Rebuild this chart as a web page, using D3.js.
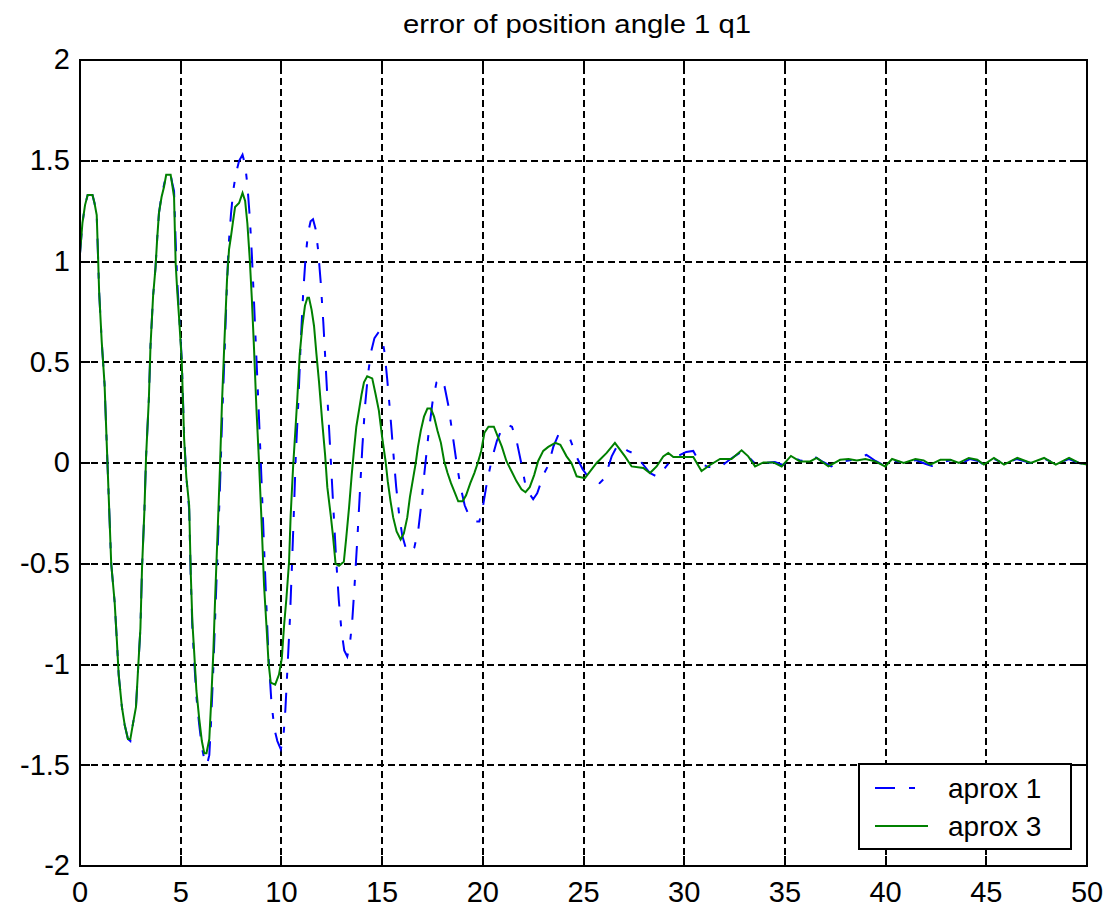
<!DOCTYPE html>
<html>
<head>
<meta charset="utf-8">
<script src="https://cdn.jsdelivr.net/npm/d3@7"></script>
<style>
  body { margin: 0; background: #fff; }
  text { font-family: "Liberation Sans", Arial, sans-serif; fill: #000; }
  .grid line { stroke: #000; stroke-width: 2; stroke-dasharray: 7,4; shape-rendering: crispEdges; }
  .ticks line { stroke: #000; stroke-width: 2; shape-rendering: crispEdges; }
</style>
</head>
<body>
<svg id="chart" width="1104" height="908"></svg>
<script>
// chart values
var chartTitle = "error of position angle 1 q1";
var seriesNames = ["aprox 1", "aprox 3"];
var xTicks = [0, 5, 10, 15, 20, 25, 30, 35, 40, 45, 50];
var yTicks = [-2, -1.5, -1, -0.5, 0, 0.5, 1, 1.5, 2];

// aprox 1 (blue, dash-dot)
var aprox1T = [0, 0.12, 0.25, 0.38, 0.62, 0.72, 0.83, 0.95, 1.08, 1.22, 1.33, 1.45, 1.55, 1.72, 1.83, 1.92, 2.08, 2.22, 2.38, 2.5,
  2.62, 2.78, 2.88, 3.0, 3.08, 3.2, 3.28, 3.42, 3.5, 3.63, 3.75, 3.83, 3.92, 4.05, 4.17, 4.28, 4.5, 4.58, 4.67, 4.75,
  4.83, 4.92, 5.05, 5.17, 5.28, 5.42, 5.5, 5.58, 5.67, 5.78, 5.92, 6.05, 6.17, 6.3, 6.42, 6.5, 6.62, 6.72, 6.83, 6.95,
  7.05, 7.17, 7.28, 7.38, 7.5, 7.62, 7.75, 7.9, 8.07, 8.2, 8.31, 8.43, 8.53, 8.64, 8.76, 8.89, 9.01, 9.14, 9.26, 9.36,
  9.5, 9.65, 9.8, 9.97, 10.1, 10.2, 10.3, 10.42, 10.52, 10.62, 10.72, 10.85, 10.96, 11.08, 11.2, 11.32, 11.45, 11.57, 11.7, 11.82,
  11.95, 12.08, 12.2, 12.33, 12.46, 12.6, 12.72, 12.85, 12.98, 13.12, 13.27, 13.4, 13.52, 13.65, 13.78, 13.9, 14.02, 14.15, 14.3, 14.45,
  14.62, 14.8, 14.98, 15.12, 15.25, 15.4, 15.55, 15.7, 15.85, 16.0, 16.2, 16.4, 16.6, 16.8, 16.95, 17.1, 17.3, 17.5, 17.7, 17.92,
  18.1, 18.3, 18.5, 18.7, 18.9, 19.1, 19.35, 19.6, 19.83, 20.0, 20.2, 20.45, 20.7, 20.95, 21.2, 21.45, 21.7, 21.93, 22.1, 22.3,
  22.5, 22.7, 22.84, 23.05, 23.26, 23.5, 23.75, 24.05, 24.33, 24.66, 24.95, 25.24, 25.5, 25.8, 26.05, 26.4, 26.7, 26.9, 27.2, 27.56,
  27.9, 28.3, 28.7, 29.0, 29.4, 29.8, 30.1, 30.45, 30.78, 31.2, 31.78, 32.3, 32.9, 33.2, 33.6, 34.0, 34.5, 34.9, 35.4, 35.8,
  36.4, 36.9, 37.3, 37.8, 38.3, 39.05, 39.5, 40.0, 40.5, 41.0, 41.5, 42.0, 42.3, 42.8, 43.3, 43.7, 44.2, 44.6, 44.9, 45.4,
  45.9, 46.5, 47.2, 47.9, 48.5, 49.1, 49.6, 50];
var aprox1Y = [1.04, 1.19, 1.28, 1.33, 1.33, 1.29, 1.23, 0.85, 0.6, 0.39, 0.09, -0.23, -0.5, -0.69, -0.88, -1.05, -1.21, -1.3, -1.37, -1.38,
  -1.3, -1.21, -1.03, -0.82, -0.52, -0.23, 0.03, 0.32, 0.58, 0.83, 0.97, 1.11, 1.24, 1.33, 1.38, 1.43, 1.43, 1.39, 1.35, 1.1,
  0.9, 0.74, 0.52, 0.14, -0.07, -0.23, -0.57, -0.82, -0.98, -1.16, -1.3, -1.41, -1.47, -1.5, -1.45, -1.3, -1.02, -0.74, -0.44, -0.12,
  0.2, 0.52, 0.84, 1.08, 1.24, 1.36, 1.44, 1.5, 1.53, 1.48, 1.38, 1.22, 1.04, 0.8, 0.52, 0.22, -0.08, -0.42, -0.72, -0.96,
  -1.18, -1.32, -1.38, -1.42, -1.36, -1.22, -1.02, -0.78, -0.52, -0.24, 0.05, 0.32, 0.6, 0.84, 1.02, 1.14, 1.2, 1.21, 1.16, 1.06,
  0.9, 0.7, 0.48, 0.24, 0.0, -0.26, -0.48, -0.68, -0.83, -0.93, -0.96, -0.9, -0.78, -0.58, -0.36, -0.14, 0.08, 0.28, 0.44, 0.55,
  0.62, 0.645, 0.63, 0.55, 0.42, 0.25, 0.06, -0.12, -0.26, -0.36, -0.43, -0.445, -0.42, -0.33, -0.2, -0.05, 0.14, 0.3, 0.4, 0.42,
  0.38, 0.28, 0.14, 0.0, -0.12, -0.21, -0.27, -0.29, -0.29, -0.22, -0.1, 0.02, 0.11, 0.17, 0.19, 0.18, 0.1, -0.01, -0.1, -0.15,
  -0.18, -0.15, -0.11, -0.05, -0.01, 0.08, 0.14, 0.14, 0.12, 0.03, -0.03, -0.07, -0.09, -0.1, -0.075, 0.033, 0.09, 0.085, 0.06, 0.045,
  0.0, -0.05, -0.07, -0.03, 0.02, 0.04, 0.055, 0.06, 0.0, -0.02, -0.02, 0.02, 0.06, 0.03, -0.01, 0.0, 0.005, -0.01, 0.03, 0.01,
  0.036, 0.005, -0.017, 0.005, 0.015, 0.04, 0.01, -0.015, 0.01, 0.0, 0.015, -0.005, -0.015, 0.005, 0.015, -0.005, 0.02, 0.01, -0.01, 0.02,
  -0.005, 0.02, 0.0, 0.02, -0.005, 0.02, 0.0, -0.005];

// aprox 3 (green, solid)
var aprox3T = [0, 0.12, 0.25, 0.38, 0.62, 0.72, 0.83, 0.88, 0.95, 1.08, 1.22, 1.33, 1.45, 1.55, 1.72, 1.83, 1.92, 2.08, 2.22, 2.38,
  2.5, 2.62, 2.78, 2.88, 3.0, 3.08, 3.2, 3.28, 3.42, 3.5, 3.63, 3.75, 3.83, 3.92, 4.05, 4.17, 4.28, 4.5, 4.58, 4.67,
  4.75, 4.83, 4.92, 5.05, 5.17, 5.28, 5.42, 5.5, 5.58, 5.67, 5.78, 5.92, 6.05, 6.17, 6.28, 6.42, 6.5, 6.62, 6.72, 6.83,
  6.95, 7.05, 7.17, 7.3, 7.4, 7.49, 7.6, 7.7, 7.9, 8.07, 8.2, 8.31, 8.43, 8.53, 8.64, 8.76, 8.89, 9.01, 9.14, 9.26,
  9.36, 9.47, 9.69, 9.88, 10.02, 10.13, 10.25, 10.38, 10.46, 10.58, 10.68, 10.79, 10.91, 11.04, 11.17, 11.29, 11.37, 11.5, 11.62, 11.74,
  11.87, 12.03, 12.17, 12.28, 12.45, 12.56, 12.69, 12.86, 13.1, 13.22, 13.36, 13.49, 13.6, 13.72, 13.85, 13.98, 14.1, 14.26, 14.51, 14.68,
  14.84, 15.0, 15.17, 15.28, 15.42, 15.55, 15.72, 15.92, 16.08, 16.25, 16.38, 16.55, 16.67, 16.78, 16.92, 17.08, 17.25, 17.42, 17.58, 17.75,
  17.92, 18.08, 18.25, 18.42, 18.62, 18.78, 19.0, 19.17, 19.38, 19.58, 19.75, 19.92, 20.08, 20.28, 20.55, 20.75, 20.95, 21.17, 21.42, 21.67,
  21.92, 22.12, 22.33, 22.55, 22.75, 23.0, 23.25, 23.6, 23.85, 24.16, 24.4, 24.66, 25.07, 25.65, 26.15, 26.56, 27.06, 27.39, 27.97, 28.3,
  28.63, 28.96, 29.21, 29.46, 30.45, 30.86, 31.28, 31.78, 32.35, 32.85, 33.18, 33.52, 33.93, 34.43, 34.84, 35.3, 35.75, 36.25, 36.58, 37.16,
  37.74, 38.16, 38.57, 38.99, 39.49, 39.98, 40.32, 40.9, 41.48, 41.89, 42.22, 42.72, 43.22, 43.64, 44.13, 44.55, 44.88, 45.38, 45.88, 46.54,
  47.21, 47.87, 48.45, 49.11, 49.6, 50];
var aprox3Y = [1.04, 1.19, 1.28, 1.33, 1.33, 1.29, 1.23, 1.08, 0.85, 0.6, 0.39, 0.09, -0.23, -0.5, -0.69, -0.88, -1.05, -1.21, -1.3, -1.37,
  -1.37, -1.3, -1.21, -1.03, -0.82, -0.52, -0.23, 0.03, 0.32, 0.58, 0.83, 0.97, 1.11, 1.24, 1.32, 1.37, 1.43, 1.43, 1.38, 1.32,
  0.99, 0.85, 0.72, 0.51, 0.12, -0.07, -0.21, -0.55, -0.79, -0.94, -1.13, -1.27, -1.38, -1.44, -1.44, -1.37, -1.21, -0.94, -0.64, -0.35,
  -0.02, 0.3, 0.6, 0.91, 1.06, 1.12, 1.2, 1.27, 1.29, 1.34, 1.3, 1.19, 1.01, 0.82, 0.57, 0.27, 0.0, -0.28, -0.61, -0.81,
  -0.99, -1.09, -1.1, -1.05, -0.97, -0.81, -0.67, -0.49, -0.26, -0.02, 0.14, 0.32, 0.54, 0.68, 0.78, 0.82, 0.82, 0.76, 0.68, 0.54,
  0.4, 0.2, 0.04, -0.12, -0.26, -0.36, -0.5, -0.51, -0.49, -0.37, -0.22, -0.06, 0.06, 0.18, 0.26, 0.34, 0.4, 0.43, 0.42, 0.34,
  0.26, 0.13, 0.01, -0.09, -0.19, -0.27, -0.34, -0.38, -0.35, -0.27, -0.17, -0.07, 0.0, 0.08, 0.16, 0.23, 0.27, 0.27, 0.23, 0.16,
  0.1, 0.01, -0.05, -0.1, -0.15, -0.19, -0.19, -0.16, -0.1, -0.05, 0.0, 0.06, 0.15, 0.18, 0.18, 0.13, 0.08, 0.01, -0.04, -0.09,
  -0.13, -0.145, -0.12, -0.06, 0.01, 0.06, 0.08, 0.1, 0.09, 0.033, 0.0, -0.066, -0.075, 0.0, 0.05, 0.1, 0.033, -0.017, -0.025, -0.05,
  -0.017, 0.033, 0.05, 0.03, 0.03, -0.04, -0.01, 0.02, 0.02, 0.063, 0.033, -0.017, 0.003, 0.003, -0.017, 0.035, 0.008, 0.008, 0.025, -0.017,
  0.016, 0.02, 0.013, 0.02, 0.008, -0.017, 0.02, 0.0, 0.02, 0.013, -0.008, 0.016, 0.016, 0.0, 0.025, 0.016, -0.008, 0.025, -0.008, 0.025,
  0.0, 0.025, -0.008, 0.025, 0.0, -0.008];

// plot box inside the svg (plotTop, not "top": window.top is read-only)
var svg = d3.select("#chart"),
    plotLeft = 80, plotRight = 1087, plotTop = 60, plotBottom = 866;

var x = d3.scaleLinear().domain([0, 50]).range([plotLeft, plotRight]);
var y = d3.scaleLinear().domain([-2, 2]).range([plotBottom, plotTop]);
var fmt = function(d) { return String(d); };

// dashed grid, offset(0) so 2px lines land on whole pixels
svg.append("g").attr("class", "grid")
  .attr("transform", "translate(0," + plotBottom + ")")
  .call(d3.axisBottom(x).tickValues(xTicks).tickSize(-(plotBottom - plotTop)).tickFormat("").offset(0))
  .call(function(g) { g.select(".domain").remove(); });
svg.append("g").attr("class", "grid")
  .attr("transform", "translate(" + plotLeft + ",0)")
  .call(d3.axisLeft(y).tickValues(yTicks).tickSize(-(plotRight - plotLeft)).tickFormat("").offset(0))
  .call(function(g) { g.select(".domain").remove(); });

// the two series
var line = d3.line()
  .x(function(d) { return x(d[0]); })
  .y(function(d) { return y(d[1]); });

svg.append("path")
  .datum(d3.zip(aprox1T, aprox1Y))
  .attr("fill", "none")
  .attr("stroke", "#0000ff")
  .attr("stroke-width", 2)
  .attr("stroke-dasharray", "20,14,6,14")
  .attr("d", line);

svg.append("path")
  .datum(d3.zip(aprox3T, aprox3Y))
  .attr("fill", "none")
  .attr("stroke", "#008000")
  .attr("stroke-width", 2)
  .attr("d", line);

// inner tick marks on all four sides, labels on bottom and left
var tickLen = 10;
svg.append("g").attr("class", "ticks")
  .attr("transform", "translate(0," + plotBottom + ")")
  .call(d3.axisBottom(x).tickValues(xTicks).tickSize(-tickLen).tickSizeOuter(0).tickPadding(15).tickFormat(fmt).offset(0))
  .call(function(g) { g.select(".domain").remove(); g.selectAll("text").style("font-size", "29px"); });
svg.append("g").attr("class", "ticks")
  .attr("transform", "translate(0," + plotTop + ")")
  .call(d3.axisTop(x).tickValues(xTicks).tickSize(-tickLen).tickFormat("").offset(0))
  .call(function(g) { g.select(".domain").remove(); });
svg.append("g").attr("class", "ticks")
  .attr("transform", "translate(" + plotLeft + ",0)")
  .call(d3.axisLeft(y).tickValues(yTicks).tickSize(-tickLen).tickSizeOuter(0).tickPadding(10).tickFormat(fmt).offset(0))
  .call(function(g) { g.select(".domain").remove(); g.selectAll("text").style("font-size", "29px"); });
svg.append("g").attr("class", "ticks")
  .attr("transform", "translate(" + plotRight + ",0)")
  .call(d3.axisRight(y).tickValues(yTicks).tickSize(-tickLen).tickFormat("").offset(0))
  .call(function(g) { g.select(".domain").remove(); });

// axes box
svg.append("rect")
  .attr("x", plotLeft).attr("y", plotTop)
  .attr("width", plotRight - plotLeft).attr("height", plotBottom - plotTop)
  .attr("fill", "none").attr("stroke", "#000").attr("stroke-width", 2);

// title
svg.append("text")
  .attr("x", 577).attr("y", 33)
  .attr("text-anchor", "middle")
  .attr("textLength", 348).attr("lengthAdjust", "spacingAndGlyphs")
  .style("font-size", "26px")
  .text(chartTitle);

// legend
var legend = svg.append("g").attr("transform", "translate(859,764)");
legend.append("rect")
  .attr("width", 212).attr("height", 85)
  .attr("fill", "#fff").attr("stroke", "#000").attr("stroke-width", 2);

var legendStyle = [
  { color: "#0000ff", dash: "20,14,6,14" },
  { color: "#008000", dash: null }
];
seriesNames.forEach(function(name, i) {
  var yy = 24 + i * 38;
  legend.append("line")
    .attr("x1", 16).attr("x2", 69).attr("y1", yy).attr("y2", yy)
    .attr("stroke", legendStyle[i].color).attr("stroke-width", 2)
    .attr("stroke-dasharray", legendStyle[i].dash);
  legend.append("text")
    .attr("x", 89).attr("y", yy + 10)
    .style("font-size", "28px")
    .text(name);
});
</script>
</body>
</html>
